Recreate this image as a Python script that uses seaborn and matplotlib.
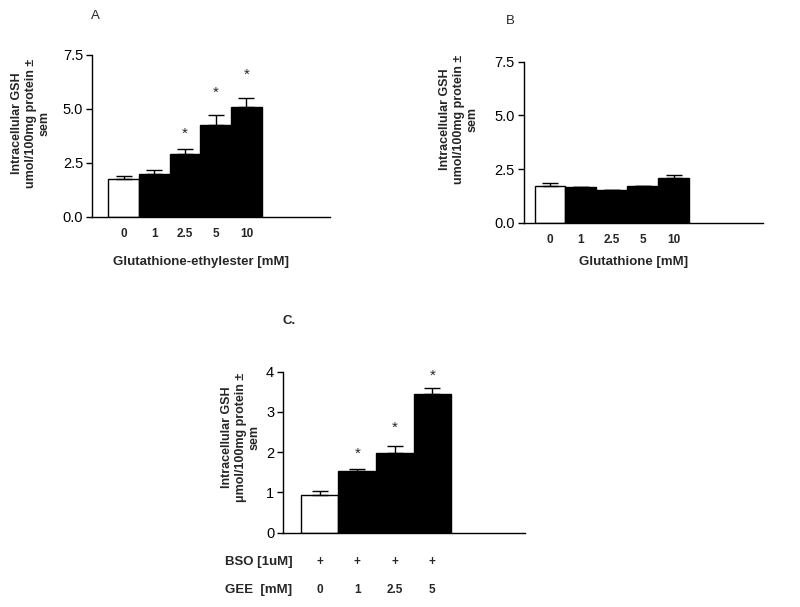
import numpy as np
import pandas as pd
import matplotlib
matplotlib.use("Agg")
import matplotlib.pyplot as plt
import matplotlib.transforms as mtransforms
import seaborn as sns

# panel A: glutathione-ethylester
a_doses = ["0", "1", "2.5", "5", "10"]
a_mean = [1.76, 2.0, 2.9, 4.26, 5.1]
a_sem = [0.11, 0.15, 0.22, 0.45, 0.39]
a_star_y = [None, None, 3.85, 5.75, 6.6]

# panel B: glutathione
b_doses = ["0", "1", "2.5", "5", "10"]
b_mean = [1.73, 1.68, 1.55, 1.72, 2.08]
b_sem = [0.11, 0.0, 0.0, 0.0, 0.16]

# panel C: BSO + GEE
c_doses = ["0", "1", "2.5", "5"]
c_bso = ["+", "+", "+", "+"]
c_mean = [0.94, 1.53, 1.98, 3.45]
c_sem = [0.1, 0.06, 0.17, 0.14]
c_star_y = [None, 1.95, 2.6, 3.9]

ylab = "Intracellular GSH\numol/100mg protein \u00b1\nsem"
ylab_c = "Intracellular GSH\n\u03bcmol/100mg protein \u00b1\nsem"

sns.set_style("ticks")
plt.rcParams["font.family"] = ["Liberation Sans", "DejaVu Sans"]

fig = plt.figure(figsize=(8, 6.07), dpi=100)


def draw_panel(ax, doses, mean, sem, ylim, yticks, ytlabels, xlim, star_y=None):
    df = pd.DataFrame({"dose": doses, "gsh": mean})
    colors = {d: ("white" if i == 0 else "black") for i, d in enumerate(doses)}
    sns.barplot(data=df, x="dose", y="gsh", hue="dose", order=doses,
                palette=colors, legend=False, width=1.0,
                edgecolor="black", linewidth=1.0, ax=ax, errorbar=None)
    xs = np.arange(len(doses))
    ax.errorbar(xs, mean, yerr=[np.zeros(len(sem)), sem], fmt="none",
                ecolor="black", elinewidth=1.0, capsize=6, capthick=1.0, zorder=1)
    if star_y is not None:
        for x, sy in zip(xs, star_y):
            if sy is not None:
                ax.text(x, sy, "*", ha="center", va="center", fontsize=11)
    ax.set_xlim(*xlim)
    ax.set_ylim(*ylim)
    ax.set_yticks(yticks)
    ax.set_yticklabels(ytlabels, fontsize=10.5)
    ax.tick_params(axis="y", length=4.5, width=1, pad=2, colors="black")
    ax.tick_params(axis="x", length=0, pad=8)
    for lbl in ax.get_xticklabels():
        lbl.set_fontweight("bold")
        lbl.set_fontsize(8.5)
    ax.set_xlabel("")
    ax.set_ylabel("")
    sns.despine(ax=ax)
    for s in ["left", "bottom"]:
        ax.spines[s].set_linewidth(1.0)
        ax.spines[s].set_color("black")


def ylabel_text(x, y, s):
    fig.text(x / 800, 1 - y / 607, s, rotation=90, ha="center", va="center",
             fontsize=9, fontweight="bold", linespacing=1.2,
             multialignment="center")


# A
axA = fig.add_axes([0.1154, 0.643, 0.297, 0.2664])
draw_panel(axA, a_doses, a_mean, a_sem, (0, 7.5), [0, 2.5, 5, 7.5],
           ["0.0", "2.5", "5.0", "7.5"], (-1.02, 6.72), a_star_y)
ylabel_text(31, 123, ylab)
fig.text(201 / 800, 1 - 262 / 607, "Glutathione-ethylester [mM]", ha="center",
         va="center", fontsize=9.5, fontweight="bold")
fig.text(95 / 800, 1 - 16 / 607, "A", ha="center", va="center", fontsize=9.5)

# B
axB = fig.add_axes([0.655, 0.633, 0.299, 0.2652])
draw_panel(axB, b_doses, b_mean, b_sem, (0, 7.5), [0, 2.5, 5, 7.5],
           ["0.0", "2.5", "5.0", "7.5"], (-0.84, 6.9))
ylabel_text(459, 119, ylab)
fig.text(634 / 800, 1 - 262 / 607, "Glutathione [mM]", ha="center",
         va="center", fontsize=9.5, fontweight="bold")
fig.text(510 / 800, 1 - 21 / 607, "B", ha="center", va="center", fontsize=9.5)

# C
axC = fig.add_axes([0.354, 0.1224, 0.3025, 0.2652])
draw_panel(axC, c_doses, c_mean, c_sem, (0, 4), [0, 1, 2, 3, 4],
           ["0", "1", "2", "3", "4"], (-0.97, 5.47), c_star_y)
axC.set_xticks(np.arange(len(c_doses)))
axC.set_xticklabels(c_bso, fontsize=8.5, fontweight="bold")
axC.tick_params(axis="x", length=0, pad=17)
trans = mtransforms.blended_transform_factory(axC.transData, fig.transFigure)
for x, d in enumerate(c_doses):
    fig.text(x, 1 - 590 / 607, d, transform=trans, ha="center", va="center",
             fontsize=8.5, fontweight="bold")
fig.text(225 / 800, 1 - 562 / 607, "BSO [1uM]", ha="left", va="center",
         fontsize=9.5, fontweight="bold")
fig.text(225 / 800, 1 - 590 / 607, "GEE  [mM]", ha="left", va="center",
         fontsize=9.5, fontweight="bold")
ylabel_text(241, 437, ylab_c)
fig.text(289 / 800, 1 - 321 / 607, "C.", ha="center", va="center", fontsize=9.5,
         fontweight="bold")

fig.savefig("out.png", dpi=100)
